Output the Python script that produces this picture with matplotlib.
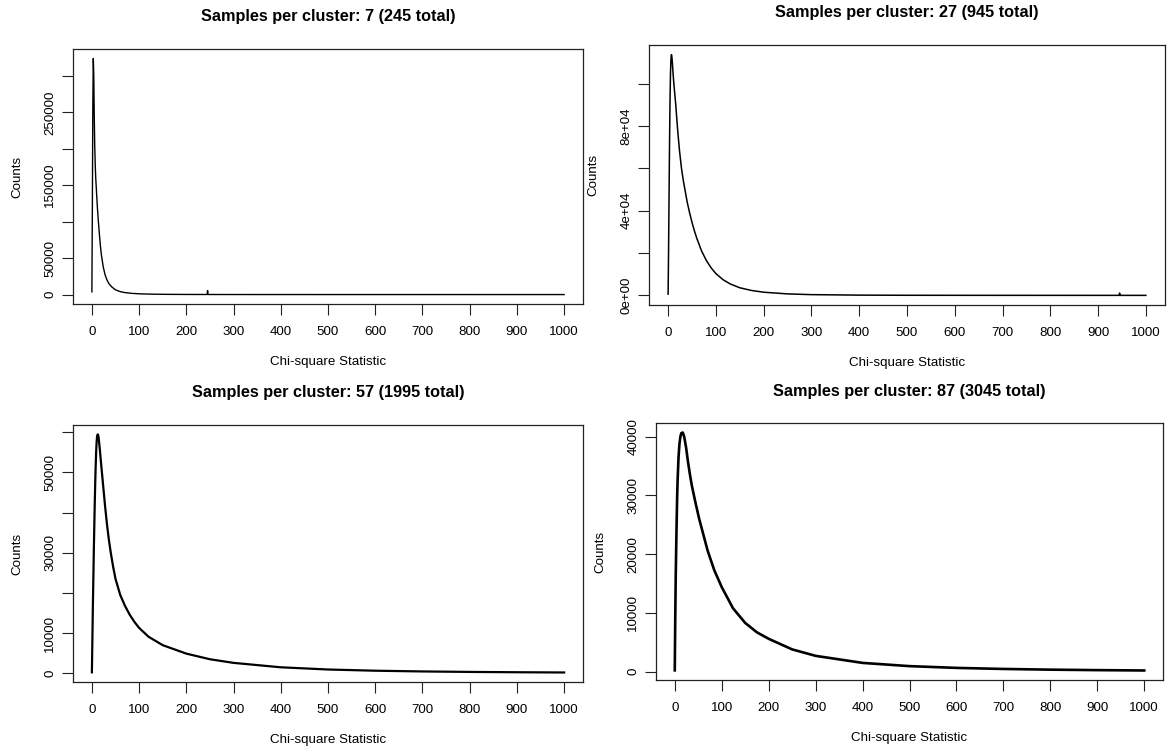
import matplotlib
matplotlib.use("Agg")
import matplotlib.pyplot as plt

plt.rcParams['font.family'] = ['Liberation Sans', 'DejaVu Sans']

W, H = 1168, 749

# Histogram of chi-square statistics, one panel per cluster size
titles = [
    "Samples per cluster: 7 (245 total)",
    "Samples per cluster: 27 (945 total)",
    "Samples per cluster: 57 (1995 total)",
    "Samples per cluster: 87 (3045 total)",
]

chi_7 = [0, 1, 2, 3, 4, 5, 6, 7, 8, 10, 12, 14, 16, 18, 20, 24, 28, 32, 36, 42, 50, 60,
         70, 85, 105, 130, 160, 200, 244, 245, 246, 300, 400, 600, 800, 1000]
cnt_7 = [3700, 120000, 260000, 324000, 300000, 245000, 205000, 180000, 162000, 138000,
         116000, 98000, 82000, 67000, 55000, 38000, 27000, 20000, 15000, 10500, 6500, 4000,
         2700, 1600, 900, 500, 280, 150, 90, 5500, 90, 50, 25, 10, 5, 3]

chi_27 = [0, 1, 2, 3, 4, 5, 6, 7, 8, 9, 10, 12, 14, 16, 18, 20, 24, 28, 32, 36, 40, 45,
          50, 55, 60, 70, 80, 90, 100, 115, 130, 150, 175, 200, 250, 300, 400, 500, 700,
          944, 945, 946, 1000]
cnt_27 = [600, 22000, 48000, 72000, 92000, 105000, 112000, 113700, 112500, 109500, 106000,
          100000, 95000, 90000, 84000, 78000, 68000, 60000, 54000, 49000, 44000, 39000,
          34500, 30500, 27000, 21000, 16500, 13000, 10300, 7400, 5400, 3600, 2300, 1500,
          700, 350, 120, 50, 15, 8, 1100, 8, 5]

chi_57 = [0, 1, 2, 3, 4, 5, 6, 7, 8, 9, 10, 11, 12, 13, 14, 15, 17, 20, 24, 28, 32, 36,
          40, 45, 50, 60, 70, 80, 90, 100, 120, 150, 200, 250, 300, 400, 500, 600, 700,
          800, 900, 1000]
cnt_57 = [250, 8000, 16000, 23000, 30000, 36000, 42000, 47000, 51500, 55000, 57500, 59000,
          59400, 59400, 58800, 57800, 55500, 51500, 46500, 41500, 37000, 33200, 30000,
          26500, 23500, 19500, 16800, 14600, 12800, 11300, 9100, 7000, 4900, 3500, 2600,
          1500, 950, 650, 470, 350, 270, 210]

chi_87 = [0, 1, 2, 3, 4, 5, 6, 8, 10, 12, 14, 17, 20, 24, 28, 32, 36, 44, 52, 60, 70, 84,
          100, 124, 150, 175, 200, 250, 300, 400, 500, 600, 700, 800, 900, 1000]
cnt_87 = [230, 9000, 16000, 21000, 25500, 29500, 32500, 36500, 38800, 40000, 40600, 40700,
          40000, 38200, 35800, 33700, 31800, 28800, 26000, 23600, 20600, 17300, 14400,
          10800, 8300, 6700, 5600, 3800, 2700, 1500, 950, 650, 470, 350, 270, 210]

series = [(chi_7, cnt_7), (chi_27, cnt_27), (chi_57, cnt_57), (chi_87, cnt_87)]

yticks = [
    [0, 50000, 100000, 150000, 200000, 250000, 300000],
    [0, 20000, 40000, 60000, 80000, 100000],
    [0, 10000, 20000, 30000, 40000, 50000, 60000],
    [0, 10000, 20000, 30000, 40000],
]
yticklabels = [
    ["0", "50000", "", "150000", "", "250000", ""],
    ["0e+00", "", "4e+04", "", "8e+04", ""],
    ["0", "10000", "", "30000", "", "50000", ""],
    ["0", "10000", "20000", "30000", "40000"],
]
xticks = list(range(0, 1001, 100))

# plot boxes in pixels: left, top, right, bottom
boxes = [
    (73, 49, 583, 304),
    (649, 45, 1165, 305),
    (73, 425, 583, 682),
    (656, 423, 1163, 680),
]
line_widths = [1.0, 1.1, 1.6, 1.9]
label_size = 9.6

fig = plt.figure(figsize=(W / 100, H / 100), dpi=100)
fig.patch.set_facecolor("white")

for i, ((x0, y0, x1, y1), (xs, ys)) in enumerate(zip(boxes, series)):
    ax = fig.add_axes([x0 / W, 1 - y1 / H, (x1 - x0) / W, (y1 - y0) / H])
    ax.plot(xs, ys, color="black", lw=line_widths[i], solid_joinstyle="round")
    ax.set_xlim(-40, 1040)
    lo, hi = min(ys), max(ys)
    pad = 0.04 * (hi - lo)
    ax.set_ylim(lo - pad, hi + pad)
    ax.set_xticks(xticks)
    ax.set_xticklabels([str(t) for t in xticks], fontsize=label_size)
    ax.set_yticks(yticks[i])
    ax.set_yticklabels(yticklabels[i], fontsize=label_size, rotation=90, va="center")
    ax.tick_params(direction="out", length=8, width=0.8, color="#222222")
    ax.tick_params(axis="x", pad=8)
    ax.tick_params(axis="y", pad=4)
    for s in ax.spines.values():
        s.set_linewidth(0.9)
        s.set_color("#222222")
    cx = (x0 + x1) / 2
    fig.text(cx / W, 1 - (y0 - 32) / H, titles[i], ha="center", va="center",
             fontsize=11.7, fontweight="bold")
    fig.text(cx / W, 1 - (y1 + 58) / H, "Chi-square Statistic", ha="center", va="center",
             fontsize=label_size)
    fig.text((x0 - 56) / W, 1 - ((y0 + y1) / 2) / H, "Counts", ha="center", va="center",
             rotation=90, fontsize=label_size)

fig.savefig("out.png", dpi=100)
